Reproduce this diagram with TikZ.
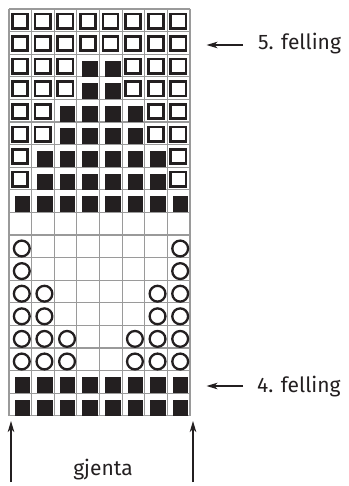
\documentclass[tikz,border=0pt]{standalone}
\usepackage{fontspec}
\setmainfont{Fira Sans}
\usetikzlibrary{arrows.meta}
\definecolor{ink}{HTML}{231F20}
\definecolor{gridgray}{HTML}{9A9A9A}
\tikzset{
  gridline/.style={draw=gridgray, line width=1.1pt},
  hollowsq/.style={draw=ink, line width=2.7pt, fill=white},
  blacksq/.style={fill=ink},
  ring/.style={draw=ink, line width=2.3pt},
  pointer/.style={draw=ink, line width=1.1pt, -{Stealth[length=11pt,width=6.5pt,inset=3pt]}},
  label/.style={font=\fontsize{21}{25}\selectfont, text=ink, inner sep=0pt}
}
\begin{document}
\begin{tikzpicture}[x=1pt,y=-1pt]
\useasboundingbox (0,0) rectangle (348,486);
% grid
\foreach \i in {0,...,8} \draw[gridline] ({9+22.625*\i},9) -- ({9+22.625*\i},415.8);
\foreach \j in {0,...,18} \draw[gridline] (9,{9+22.6*\j}) -- (190,{9+22.6*\j});
% hollow squares
\foreach \r/\cl in {1/{1,2,3,4,5,6,7,8},2/{1,2,3,4,5,6,7,8},3/{1,2,3,6,7,8},4/{1,2,3,6,7,8},5/{1,2,7,8},6/{1,2,7,8},7/{1,8},8/{1,8}}
  \foreach \c in \cl
    \draw[hollowsq] ({9+22.625*(\c-1)+3.4},{9+22.6*(\r-1)+4.9}) rectangle +(15.2,14.3);
% black squares
\foreach \r/\cl in {3/{4,5},4/{4,5},5/{3,4,5,6},6/{3,4,5,6},7/{2,3,4,5,6,7},8/{2,3,4,5,6,7},9/{1,2,3,4,5,6,7,8},17/{1,2,3,4,5,6,7,8},18/{1,2,3,4,5,6,7,8}}
  \foreach \c in \cl
    \fill[blacksq] ({9+22.625*(\c-1)+5.5},{9+22.6*(\r-1)+6.5}) rectangle +(15.5,16);
% circles
\foreach \r/\cl in {11/{1,8},12/{1,8},13/{1,2,7,8},14/{1,2,7,8},15/{1,2,3,6,7,8},16/{1,2,3,6,7,8}}
  \foreach \c in \cl
    \draw[ring] ({9+22.625*(\c-1)+12.8},{9+22.6*(\r-1)+13.5}) circle[radius=7.9];
% labels
\node[label, anchor=base west] (f5) at (258,49.3) {5. felling};
\node[label, anchor=base west] (f4) at (257,392.7) {4. felling};
\node[label, anchor=base] (gj) at (103,475) {gjenta};
% arrows
\coordinate (a5s) at (243,45);
\coordinate (a5e) at (206.5,45);
\coordinate (a4s) at (243,386);
\coordinate (a4e) at (206.5,386);
\coordinate (lls) at (11,482);
\coordinate (lle) at (11,421);
\coordinate (rrs) at (193,482);
\coordinate (rre) at (193,421);
\draw[pointer] (a5s) -- (a5e);
\draw[pointer] (a4s) -- (a4e);
\draw[pointer] (lls) -- (lle);
\draw[pointer] (rrs) -- (rre);
\end{tikzpicture}
\end{document}
